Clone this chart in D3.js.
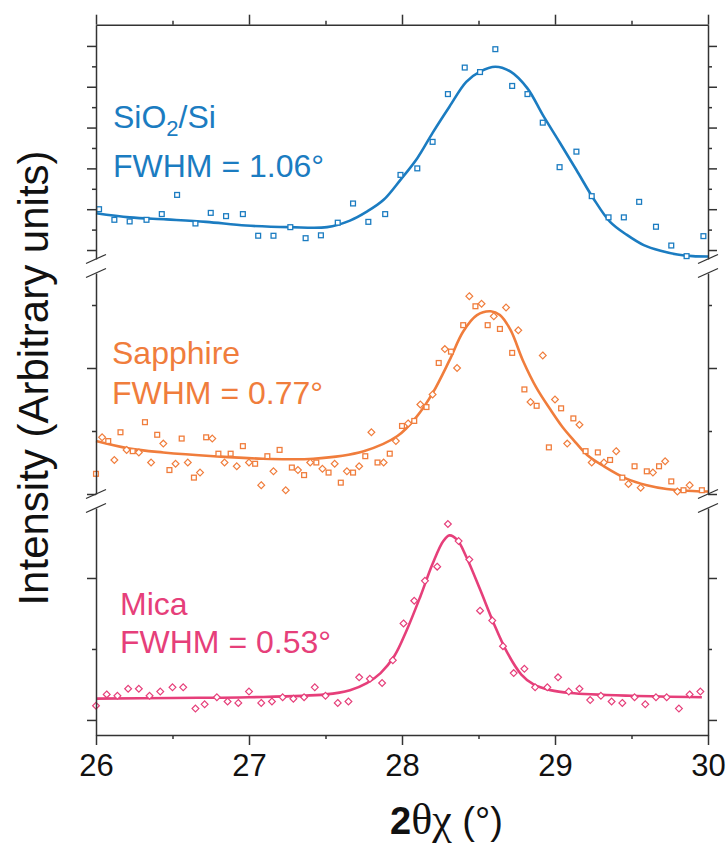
<!DOCTYPE html>
<html>
<head>
<meta charset="utf-8">
<script src="https://d3js.org/d3.v7.min.js"></script>
<style>
  body { margin: 0; background: #ffffff; }
  svg { display: block; }
  .axis path, .axis line { stroke: #333333; stroke-width: 1.5; }
  .lbl { font-family: "Liberation Sans", Arial, sans-serif; }
</style>
</head>
<body>
<svg id="chart" width="728" height="844"></svg>
<script>
// ---- SiO2/Si (top panel) ----
const sioX = [26.02, 26.12, 26.22, 26.33, 26.43, 26.53, 26.65, 26.75, 26.85, 26.96,
              27.06, 27.16, 27.27, 27.37, 27.47, 27.58, 27.68, 27.78, 27.89, 27.99,
              28.10, 28.20, 28.30, 28.41, 28.51, 28.61, 28.72, 28.82, 28.92, 29.03,
              29.14, 29.24, 29.35, 29.45, 29.55, 29.66, 29.76, 29.86, 29.97];
const sioY = [1.00, 0.74, 0.70, 0.74, 0.88, 1.35, 0.65, 0.91, 0.83, 0.88,
              0.35, 0.35, 0.56, 0.29, 0.36, 0.67, 1.14, 0.69, 0.88, 1.84,
              2.00, 2.65, 3.82, 4.47, 4.36, 4.92, 4.02, 3.82, 3.12, 2.03,
              2.41, 1.32, 0.80, 0.80, 1.18, 0.57, 0.11, -0.15, 0.34];
const sioFitX = [26.00, 26.22, 26.46, 26.72, 26.98, 27.27, 27.51, 27.66, 27.77, 27.88,
                 27.99, 28.10, 28.20, 28.31, 28.42, 28.51, 28.61, 28.71, 28.82, 28.92,
                 29.03, 29.14, 29.25, 29.36, 29.47, 29.58, 29.69, 29.80, 29.90, 30.00];
const sioFitY = [0.90, 0.80, 0.75, 0.69, 0.60, 0.56, 0.56, 0.72, 0.94, 1.23,
                 1.72, 2.25, 2.87, 3.51, 4.12, 4.37, 4.49, 4.37, 3.96, 3.31,
                 2.64, 1.96, 1.27, 0.69, 0.37, 0.12, -0.02, -0.11, -0.15, -0.16];

// ---- Sapphire (middle panel) ----
const sapX = [26.00, 26.04, 26.08, 26.12, 26.16, 26.20, 26.24, 26.28, 26.32, 26.36,
              26.40, 26.44, 26.48, 26.52, 26.56, 26.60, 26.64, 26.68, 26.72, 26.76,
              26.80, 26.84, 26.88, 26.92, 26.96, 27.00, 27.04, 27.08, 27.12, 27.16,
              27.20, 27.24, 27.28, 27.32, 27.36, 27.40, 27.44, 27.48, 27.52, 27.56,
              27.60, 27.64, 27.68, 27.72, 27.76, 27.80, 27.84, 27.88, 27.92, 27.96,
              28.00, 28.04, 28.08, 28.12, 28.16, 28.20, 28.24, 28.28, 28.32, 28.36,
              28.40, 28.44, 28.48, 28.52, 28.56, 28.60, 28.64, 28.68, 28.72, 28.76,
              28.80, 28.84, 28.88, 28.92, 28.96, 29.00, 29.04, 29.08, 29.12, 29.16,
              29.20, 29.24, 29.28, 29.32, 29.36, 29.40, 29.44, 29.48, 29.52, 29.56,
              29.60, 29.64, 29.68, 29.72, 29.76, 29.80, 29.84, 29.88, 29.96];
const sapY = [0.16, 0.45, 0.42, 0.27, 0.49, 0.35, 0.34, 0.33, 0.57, 0.25,
              0.47, 0.40, 0.19, 0.24, 0.44, 0.25, 0.13, 0.17, 0.45, 0.44,
              0.32, 0.25, 0.32, 0.22, 0.38, 0.25, 0.24, 0.07, 0.30, 0.18,
              0.35, 0.03, 0.21, 0.19, 0.15, 0.25, 0.25, 0.20, 0.17, 0.24,
              0.09, 0.18, 0.17, 0.22, 0.30, 0.49, 0.25, 0.25, 0.32, 0.42,
              0.54, 0.56, 0.58, 0.71, 0.69, 0.79, 1.04, 1.15, 1.13, 1.00,
              1.34, 1.57, 1.49, 1.51, 1.34, 1.41, 1.31, 1.48, 1.12, 1.30,
              0.83, 0.73, 0.70, 1.10, 0.37, 0.75, 0.68, 0.40, 0.60, 0.55,
              0.34, 0.25, 0.33, 0.25, 0.27, 0.34, 0.13, 0.08, 0.22, 0.05,
              0.18, 0.17, 0.22, 0.26, 0.10, 0.02, 0.03, 0.07, 0.03];
const sapFitX = [26.00, 26.22, 26.44, 26.77, 27.09, 27.42, 27.75, 27.97, 28.10, 28.20,
                 28.31, 28.40, 28.49, 28.58, 28.64, 28.71, 28.79, 28.88, 28.97, 29.05,
                 29.12, 29.21, 29.32, 29.47, 29.60, 29.73, 29.82, 29.95, 30.00];
const sapFitY = [0.42, 0.36, 0.33, 0.30, 0.28, 0.28, 0.34, 0.46, 0.62, 0.80,
                 1.06, 1.29, 1.42, 1.45, 1.42, 1.30, 1.06, 0.84, 0.67, 0.53,
                 0.43, 0.31, 0.22, 0.12, 0.07, 0.04, 0.03, 0.02, 0.02];

// ---- Mica (bottom panel) ----
const micX = [26.00, 26.07, 26.14, 26.21, 26.28, 26.35, 26.42, 26.50, 26.57, 26.65,
              26.71, 26.79, 26.86, 26.93, 27.00, 27.08, 27.15, 27.22, 27.29, 27.36,
              27.43, 27.50, 27.58, 27.65, 27.72, 27.79, 27.87, 27.94, 28.01, 28.08,
              28.15, 28.23, 28.30, 28.37, 28.44, 28.51, 28.59, 28.66, 28.73, 28.80,
              28.87, 28.95, 29.02, 29.09, 29.16, 29.23, 29.30, 29.37, 29.44, 29.52,
              29.59, 29.66, 29.73, 29.81, 29.88, 29.95];
const micY = [0.10, 0.18, 0.17, 0.22, 0.22, 0.17, 0.20, 0.23, 0.23, 0.08,
              0.11, 0.16, 0.13, 0.12, 0.20, 0.12, 0.13, 0.16, 0.15, 0.16,
              0.23, 0.17, 0.12, 0.13, 0.30, 0.29, 0.26, 0.42, 0.68, 0.84,
              0.98, 1.08, 1.38, 1.26, 1.13, 0.77, 0.70, 0.52, 0.33, 0.36,
              0.23, 0.23, 0.30, 0.20, 0.22, 0.14, 0.17, 0.13, 0.12, 0.16,
              0.11, 0.16, 0.16, 0.08, 0.18, 0.20];
const micFitX = [26.00, 26.50, 27.00, 27.50, 27.66, 27.77, 27.86, 27.95, 28.03, 28.12,
                 28.20, 28.27, 28.31, 28.36, 28.42, 28.51, 28.60, 28.69, 28.78, 28.86,
                 28.97, 29.10, 29.50, 29.96];
const micFitY = [0.15, 0.155, 0.16, 0.18, 0.21, 0.26, 0.33, 0.45, 0.63, 0.87,
                 1.10, 1.26, 1.30, 1.27, 1.15, 0.92, 0.68, 0.47, 0.32, 0.25,
                 0.21, 0.19, 0.17, 0.16];

const xTicks = [26, 27, 28, 29, 30];
const xMinor = [26.5, 27.5, 28.5, 29.5];

const svg = d3.select('#chart');
const left = 96, right = 708;
const x = d3.scaleLinear().domain([26, 30]).range([left, right]);

// panels: pixel extent + value domain + ticks
const panels = [
  { name: ['SiO', '2', '/Si'], fwhm: 'FWHM = 1.06°', color: '#1b7cc1', shape: 'square',
    top: 24.7, bottom: 259, dom: [-0.22, 5.52],
    major: [0, 1, 2, 3, 4, 5], minor: [0.5, 1.5, 2.5, 3.5, 4.5],
    px: sioX, py: sioY, fx: sioFitX, fy: sioFitY, lx: 113, ly: 128, ly2: 177 },
  { name: ['Sapphire'], fwhm: 'FWHM = 0.77°', color: '#f07d3c', shape: 'mix',
    top: 273, bottom: 494, dom: [0, 1.754],
    major: [0, 1], minor: [0.5, 1.5],
    px: sapX, py: sapY, fx: sapFitX, fy: sapFitY, lx: 112, ly: 364, ly2: 404 },
  { name: ['Mica'], fwhm: 'FWHM = 0.53°', color: '#e63f7a', shape: 'diamond',
    top: 508, bottom: 735, dom: [-0.106, 1.493],
    major: [0, 1], minor: [0.5],
    px: micX, py: micY, fx: micFitX, fy: micFitY, lx: 120, ly: 615, ly2: 653 }
];

function drawAxis(g, axisFn, scale, major, minor, bigSize, smallSize) {
  g.append('g').attr('class', 'axis')
    .call(axisFn(scale).tickValues(major).tickSize(bigSize).tickSizeOuter(0).tickFormat(''));
  g.append('g').attr('class', 'axis')
    .call(axisFn(scale).tickValues(minor).tickSize(smallSize).tickSizeOuter(0).tickFormat(''))
    .select('.domain').remove();
}

panels.forEach(p => {
  const y = d3.scaleLinear().domain(p.dom).range([p.bottom, p.top]);

  // fit line
  const line = d3.line().x((d, i) => x(p.fx[i])).y((d, i) => y(p.fy[i])).curve(d3.curveCatmullRom.alpha(0.5));
  svg.append('path').datum(p.fx)
    .attr('d', line)
    .attr('fill', 'none')
    .attr('stroke', p.color)
    .attr('stroke-width', 2.6);

  // data markers
  const pts = svg.append('g');
  p.px.forEach((xv, i) => {
    const cx = x(xv), cy = y(p.py[i]);
    let shape = p.shape;
    if (shape === 'mix') shape = i % 2 ? 'diamond' : 'square';
    if (shape === 'square') {
      pts.append('rect').attr('x', cx - 2.4).attr('y', cy - 2.4)
        .attr('width', 4.8).attr('height', 4.8)
        .attr('fill', '#fff').attr('stroke', p.color).attr('stroke-width', 1.3);
    } else {
      const r = 3.4;
      pts.append('path')
        .attr('d', `M${cx},${cy - r}L${cx + r},${cy}L${cx},${cy + r}L${cx - r},${cy}Z`)
        .attr('fill', '#fff').attr('stroke', p.color).attr('stroke-width', 1.2);
    }
  });

  // y axes left and right
  drawAxis(svg.append('g').attr('transform', `translate(${left},0)`), d3.axisLeft, y, p.major, p.minor, 9, 4);
  drawAxis(svg.append('g').attr('transform', `translate(${right},0)`), d3.axisRight, y, p.major, p.minor, 9, 4);

  // labels
  const t = svg.append('text').attr('class', 'lbl')
    .attr('x', p.lx).attr('y', p.ly)
    .attr('fill', p.color).attr('font-size', 32);
  t.append('tspan').text(p.name[0]);
  if (p.name.length > 1) {
    t.append('tspan').attr('font-size', 22).attr('dy', 8).text(p.name[1]);
    t.append('tspan').attr('dy', -8).text(p.name[2]);
  }
  svg.append('text').attr('class', 'lbl')
    .attr('x', p.lx).attr('y', p.ly2)
    .attr('fill', p.color).attr('font-size', 32)
    .text(p.fwhm);
});

// axis break marks
[[259, 273], [494, 508]].forEach(pair => {
  pair.forEach(yy => {
    [left, right].forEach(xx => {
      svg.append('line')
        .attr('x1', xx - 10).attr('y1', yy + 4.5)
        .attr('x2', xx + 10).attr('y2', yy - 4.5)
        .attr('stroke', '#333').attr('stroke-width', 1.3);
    });
  });
});

// top axis
drawAxis(svg.append('g').attr('transform', 'translate(0,24.7)'), d3.axisTop, x, xTicks, xMinor, 10, 4);

// bottom axis with labels
const bottom = svg.append('g').attr('class', 'axis').attr('transform', 'translate(0,735)');
bottom.call(d3.axisBottom(x).tickValues(xTicks).tickSize(10).tickSizeOuter(0).tickFormat(d3.format('d')));
bottom.selectAll('text')
  .attr('class', 'lbl')
  .attr('font-size', 31)
  .attr('fill', '#111')
  .attr('y', 19);
svg.append('g').attr('class', 'axis').attr('transform', 'translate(0,735)')
  .call(d3.axisBottom(x).tickValues(xMinor).tickSize(4).tickSizeOuter(0).tickFormat(''))
  .select('.domain').remove();

// axis titles
const xt = svg.append('text').attr('x', 390).attr('y', 834).attr('fill', '#111');
xt.append('tspan').attr('class', 'lbl').attr('font-size', 38).attr('font-weight', 'bold').text('2');
xt.append('tspan').attr('font-family', '"Liberation Serif", "DejaVu Serif", serif').attr('font-size', 44).text('θχ');
xt.append('tspan').attr('class', 'lbl').attr('font-size', 38).text(' (°)');

svg.append('text').attr('class', 'lbl')
  .attr('transform', 'translate(48,378) rotate(-90)')
  .attr('text-anchor', 'middle')
  .attr('font-size', 42)
  .attr('fill', '#111')
  .text('Intensity (Arbitrary units)');
</script>
</body>
</html>
